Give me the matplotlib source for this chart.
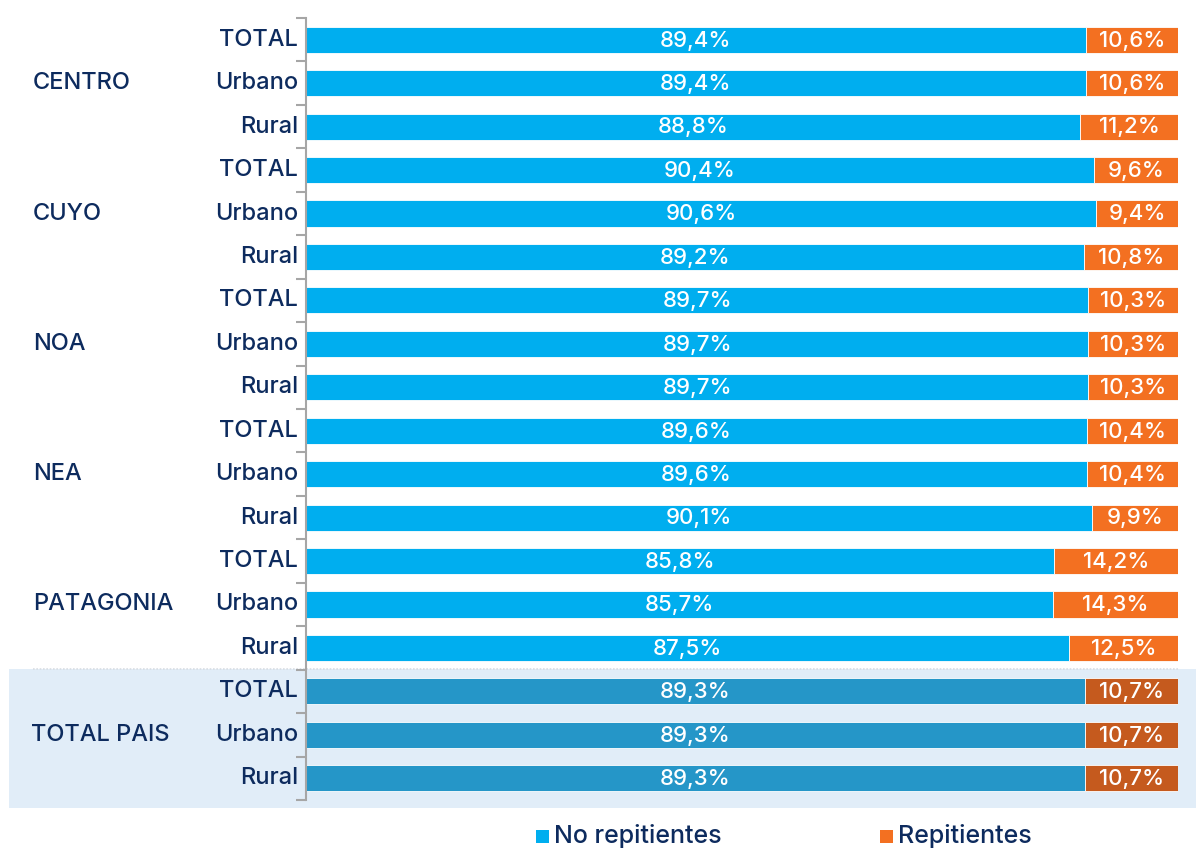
import numpy as np
import matplotlib.pyplot as plt
from matplotlib.patches import Rectangle
from matplotlib.lines import Line2D
from matplotlib.transforms import blended_transform_factory

plt.rcParams['font.family'] = ['Inter', 'DejaVu Sans']

regiones = ["CENTRO", "CUYO", "NOA", "NEA", "PATAGONIA", "TOTAL PAIS"]
ambitos = ["TOTAL", "Urbano", "Rural"]
no_repitientes = [89.4, 89.4, 88.8, 90.4, 90.6, 89.2, 89.7, 89.7, 89.7,
                  89.6, 89.6, 90.1, 85.8, 85.7, 87.5, 89.3, 89.3, 89.3]
repitientes = [10.6, 10.6, 11.2, 9.6, 9.4, 10.8, 10.3, 10.3, 10.3,
               10.4, 10.4, 9.9, 14.2, 14.3, 12.5, 10.7, 10.7, 10.7]

azul = "#00AEEF"
naranja = "#F37021"
azul_osc = "#2596C8"
naranja_osc = "#C55A1E"
texto = "#0D2B5E"

fig = plt.figure(figsize=(11.96, 8.49), dpi=100)
W, H = 1196, 849

# fondo TOTAL PAIS
fig.patches.append(Rectangle((9 / W, 1 - 808 / H), (1196 - 9) / W, (808 - 669) / H,
                             transform=fig.transFigure, facecolor="#E1EDF8",
                             edgecolor="none", zorder=-5))
fig.lines.append(Line2D([33 / W, 1178 / W], [1 - 669 / H, 1 - 669 / H],
                        transform=fig.transFigure, color="#D8DDE3",
                        linestyle=(0, (1, 1)), linewidth=1.2, zorder=-4))

ax = fig.add_axes([306 / W, 1 - 800 / H, (1178 - 306) / W, (800 - 18) / H])
ax.set_zorder(2)
ax.patch.set_alpha(0)

n = len(no_repitientes)
y = np.arange(n)
c1 = [azul] * 15 + [azul_osc] * 3
c2 = [naranja] * 15 + [naranja_osc] * 3
ax.barh(y, no_repitientes, height=0.6, color=c1, edgecolor="white", linewidth=0.6)
ax.barh(y, repitientes, left=no_repitientes, height=0.6, color=c2,
        edgecolor="white", linewidth=0.6)

for i in range(n):
    a = no_repitientes[i]
    b = repitientes[i]
    ax.text(a / 2, i + 0.02, f"{a:.1f}%".replace(".", ","), ha="center", va="center",
            color="white", fontsize=16, fontweight="medium")
    ax.text(a + b / 2, i + 0.02, f"{b:.1f}%".replace(".", ","), ha="center", va="center",
            color="white", fontsize=16, fontweight="medium")

ax.set_xlim(0, 100)
ax.set_ylim(n - 0.5, -0.5)
for s in ["top", "right", "bottom"]:
    ax.spines[s].set_visible(False)
ax.spines["left"].set_color("#A6A6A6")
ax.spines["left"].set_linewidth(1.5)
ax.set_xticks([])
ax.set_yticks(np.arange(-0.5, n, 1.0))
ax.set_yticklabels([])
ax.tick_params(axis="y", length=7, width=1.5, color="#A6A6A6")

for i in range(n):
    ax.text(-0.9, i, ambitos[i % 3], ha="right", va="center", fontsize=17,
            fontweight="medium", color=texto)

tr = blended_transform_factory(fig.transFigure, ax.transData)
for g, r in enumerate(regiones):
    yy = 3 * g + 1
    x0 = 33 if r != "TOTAL PAIS" else 31
    ax.text(x0 / W, yy, r, transform=tr, ha="left", va="center", fontsize=17,
            fontweight="medium", color=texto)

# leyenda
ly = 1 - 836 / H
fig.patches.append(Rectangle((536 / W, ly - 7 / H), 13 / W, 13 / H,
                             transform=fig.transFigure, facecolor=azul))
fig.text(554 / W, ly, "No repitientes", ha="left", va="center", fontsize=18,
         fontweight="medium", color=texto)
fig.patches.append(Rectangle((880 / W, ly - 7 / H), 13 / W, 13 / H,
                             transform=fig.transFigure, facecolor=naranja))
fig.text(898 / W, ly, "Repitientes", ha="left", va="center", fontsize=18,
         fontweight="medium", color=texto)

fig.savefig("out.png", dpi=100)
